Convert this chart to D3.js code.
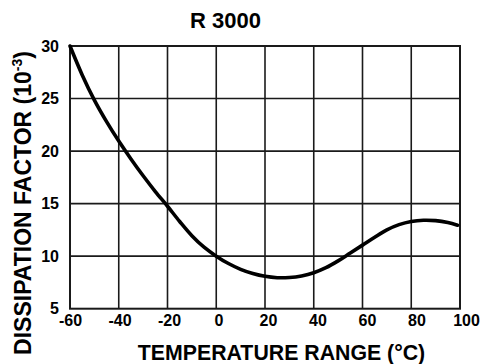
<!DOCTYPE html>
<html>
<head>
<meta charset="utf-8">
<script src="https://cdn.jsdelivr.net/npm/d3@7"></script>
<style>
  html, body { margin: 0; padding: 0; background: #fff; }
  svg { display: block; font-family: "Liberation Sans", Arial, Helvetica, sans-serif; }
</style>
</head>
<body>
<svg id="chart" width="480" height="364"></svg>
<script>
// ---- data ----
const temperatures = [-60,-55,-50,-45,-40,-35,-30,-25,-20,-15,-10,-5,0,5,10,15,20,25,30,35,40,45,50,55,60,65,70,75,80,85,90,95,99];
const dissipation  = [30.0,27.25,24.85,22.8,20.95,19.25,17.65,16.15,14.75,13.3,11.95,10.85,10.0,9.3,8.75,8.35,8.08,7.95,7.97,8.12,8.42,8.9,9.55,10.3,11.05,11.8,12.5,13.0,13.3,13.42,13.38,13.2,12.95];
const xTicks = [-60,-40,-20,0,20,40,60,80,100];
const yTicks = [5,10,15,20,25,30];
const titleText = "R 3000";
const xTitle = "TEMPERATURE RANGE (°C)";
const yTitleMain = "DISSIPATION FACTOR  (10";
const yTitleSup = "-3";
const yTitleEnd = ")";

// ---- layout ----
const pLeft = 70, pRight = 460, pTop = 46, pBottom = 308.7;
const svg = d3.select("#chart");
const x = d3.scaleLinear().domain([-60, 100]).range([pLeft, pRight]);
const xLabel = d3.scaleLinear().domain([-60, 100]).range([pLeft, 466]);
const y = d3.scaleLinear().domain([5, 30]).range([pBottom, pTop]);

// grid
const grid = svg.append("g").attr("stroke", "#1a1a1a").attr("stroke-width", 1.6);
grid.selectAll("line.v").data(xTicks.slice(1, -1)).join("line")
  .attr("x1", d => x(d)).attr("x2", d => x(d))
  .attr("y1", pTop).attr("y2", pBottom);
grid.selectAll("line.h").data(yTicks.slice(1, -1)).join("line")
  .attr("x1", pLeft).attr("x2", pRight)
  .attr("y1", d => y(d)).attr("y2", d => y(d));

// frame
svg.append("rect")
  .attr("x", pLeft).attr("y", pTop)
  .attr("width", pRight - pLeft).attr("height", pBottom - pTop)
  .attr("fill", "none").attr("stroke", "#1a1a1a").attr("stroke-width", 2);

// curve
const line = d3.line()
  .x((d, i) => x(temperatures[i]))
  .y(d => y(d))
  .curve(d3.curveCatmullRom.alpha(0.5));
svg.append("path")
  .datum(dissipation)
  .attr("d", line)
  .attr("fill", "none")
  .attr("stroke", "#000")
  .attr("stroke-width", 3.6)
  .attr("stroke-linecap", "round");

// axes labels
const xAxis = d3.axisBottom(xLabel).tickValues(xTicks).tickSize(0).tickPadding(6).tickFormat(d => String(d));
const gx = svg.append("g").attr("transform", `translate(0,${pBottom})`).call(xAxis);
gx.select(".domain").remove();
gx.selectAll("text").attr("font-size", 16).attr("font-weight", "bold").attr("fill", "#000")
  .attr("font-family", "Liberation Sans, Arial, sans-serif");

const yAxis = d3.axisLeft(y).tickValues(yTicks).tickSize(0).tickPadding(11).tickFormat(d => String(d));
const gy = svg.append("g").attr("transform", `translate(${pLeft},0)`).call(yAxis);
gy.select(".domain").remove();
gy.selectAll("text").attr("font-size", 16).attr("font-weight", "bold").attr("fill", "#000")
  .attr("font-family", "Liberation Sans, Arial, sans-serif");

// titles
svg.append("text").attr("x", 225.5).attr("y", 27.7)
  .attr("text-anchor", "middle").attr("font-size", 22).attr("font-weight", "bold")
  .text(titleText);

svg.append("text").attr("x", 281.5).attr("y", 360)
  .attr("text-anchor", "middle").attr("font-size", 21.3).attr("font-weight", "bold")
  .text(xTitle);

const yt = svg.append("text")
  .attr("transform", "translate(31,203) rotate(-90)")
  .attr("text-anchor", "middle").attr("font-size", 23).attr("font-weight", "bold");
yt.append("tspan").text(yTitleMain);
yt.append("tspan").attr("font-size", 14).attr("dy", -9).text(yTitleSup);
yt.append("tspan").attr("dy", 9).text(yTitleEnd);
</script>
</body>
</html>
